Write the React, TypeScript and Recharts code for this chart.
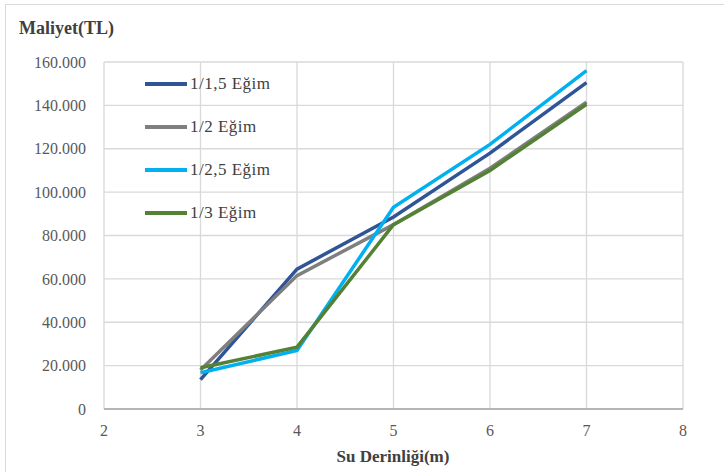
import React from 'react';
import { LineChart, Line, XAxis, YAxis, CartesianGrid } from 'recharts';

const depths = [3, 4, 5, 6, 7];
const egim15 = [13500, 64500, 88500, 118000, 150500];
const egim2 = [18000, 61500, 85000, 111000, 141500];
const egim25 = [16700, 27000, 93000, 122000, 156000];
const egim3 = [19000, 28500, 85000, 110000, 140500];
const xTicks = [2, 3, 4, 5, 6, 7, 8];
const yTicks = [0, 20000, 40000, 60000, 80000, 100000, 120000, 140000, 160000];

const seriesNames = ['1/1,5 Eğim', '1/2 Eğim', '1/2,5 Eğim', '1/3 Eğim'];
const seriesKeys = ['s15', 's2', 's25', 's3'];
const seriesColors = ['#2F5597', '#7F7F7F', '#00B0F0', '#548235'];

const data = depths.map((d, i) => ({
  x: d,
  s15: egim15[i],
  s2: egim2[i],
  s25: egim25[i],
  s3: egim3[i],
}));

const font = 'Liberation Serif';

const fmt = (v: number) => (v === 0 ? '0' : v.toLocaleString('de-DE'));

export default function App() {
  return (
    <div style={{ position: 'absolute', left: 0, top: 0, width: 724, height: 472, background: '#fff', overflow: 'hidden', fontFamily: font }}>
      <div style={{ position: 'absolute', left: 5, top: 4, width: 760, height: 520, border: '1px solid #d9d9d9' }} />
      <LineChart width={724} height={472} data={data} margin={{ top: 62, right: 41, left: 8, bottom: 33 }} style={{ fontFamily: font }}>
        <CartesianGrid stroke="#d9d9d9" strokeWidth={1.3} />
        <XAxis
          dataKey="x"
          type="number"
          domain={[2, 8]}
          ticks={xTicks}
          height={30}
          tickLine={false}
          axisLine={{ stroke: '#a6a6a6', strokeWidth: 1.5 }}
          tick={{ fontFamily: font, fontSize: 16, fill: '#595959' }}
          tickMargin={10}
        />
        <YAxis
          type="number"
          domain={[0, 160000]}
          ticks={yTicks}
          width={96}
          tickLine={false}
          axisLine={false}
          tickFormatter={fmt}
          tick={{ fontFamily: font, fontSize: 16, fill: '#595959' }}
          tickMargin={12}
        />
        {seriesKeys.map((k, i) => (
          <Line
            key={k}
            dataKey={k}
            name={seriesNames[i]}
            stroke={seriesColors[i]}
            strokeWidth={3.5}
            dot={false}
            type="linear"
            isAnimationActive={false}
          />
        ))}
      </LineChart>
      <div style={{ position: 'absolute', left: 145, top: 62, fontFamily: font, fontSize: 17, letterSpacing: 0.5, color: '#404040' }}>
        {seriesNames.map((n, i) => (
          <div key={n} style={{ display: 'flex', alignItems: 'center', height: 43 }}>
            <div style={{ width: 42, height: 4, background: seriesColors[i], marginRight: 3 }} />
            <span>{n}</span>
          </div>
        ))}
      </div>
      <div style={{ position: 'absolute', left: 19, top: 18, fontFamily: font, fontWeight: 'bold', fontSize: 18, color: '#404040' }}>
        Maliyet(TL)
      </div>
      <div style={{ position: 'absolute', left: 0, width: 786, top: 447, textAlign: 'center', fontFamily: font, fontWeight: 'bold', fontSize: 17, color: '#404040' }}>
        Su Derinliği(m)
      </div>
    </div>
  );
}
